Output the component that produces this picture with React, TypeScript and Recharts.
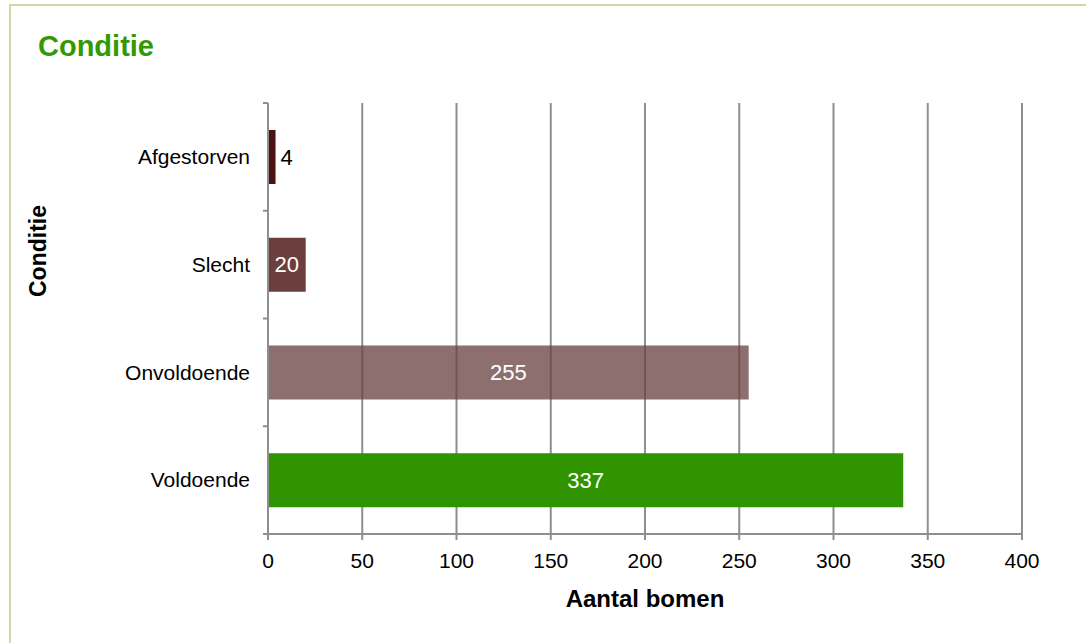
import { BarChart, Bar, XAxis, YAxis, CartesianGrid, Cell, LabelList } from "recharts"

// Conditie van bomen: aantal per conditieklasse
const categories = ["Afgestorven", "Slecht", "Onvoldoende", "Voldoende"]
const counts = [4, 20, 255, 337]
const xTicks = [0, 50, 100, 150, 200, 250, 300, 350, 400]

const barColors = ["#4b1213", "#6a3f3e", "#6a4242", "#2f9400"]
const barOpacity = [1, 1, 0.76, 1]

const data = categories.map((name, i) => ({ name, value: counts[i] }))

const FONT = 'Arial, "Liberation Sans", sans-serif'
const AXIS = "#8e8e8e"
const PLOT_TOP = 103
const PLOT_BOTTOM = 534
const AXIS_X = 268
const BAND = (PLOT_BOTTOM - PLOT_TOP) / categories.length

function CategoryTick(props: any) {
  const { y, payload, index } = props
  return (
    <g>
      <text x={AXIS_X - 18} y={y} dy="0.35em" textAnchor="end" fontSize={21} fill="#000" fontFamily={FONT}>
        {payload.value}
      </text>
      <line x1={AXIS_X - 5} x2={AXIS_X} y1={y - BAND / 2} y2={y - BAND / 2} stroke={AXIS} strokeWidth={2} />
      {index === categories.length - 1 && (
        <line x1={AXIS_X - 5} x2={AXIS_X} y1={y + BAND / 2} y2={y + BAND / 2} stroke={AXIS} strokeWidth={2} />
      )}
    </g>
  )
}

function ValueLabel(props: any) {
  const { x, y, width, height, value } = props
  const small = width < 20
  return (
    <text
      x={small ? x + width + 5 : x + width / 2}
      y={y + height / 2}
      dy="0.35em"
      textAnchor={small ? "start" : "middle"}
      fontSize={22}
      fill={small ? "#000" : "#fff"}
      fontFamily={FONT}
    >
      {value}
    </text>
  )
}

export default function App() {
  return (
    <div style={{ position: "absolute", left: 0, top: 0, width: 1086, height: 643, overflow: "hidden", background: "#fff", fontFamily: FONT }}>
      <div
        style={{
          position: "absolute",
          left: 9,
          top: 4,
          width: 1100,
          height: 700,
          border: "2px solid #cbdba3",
        }}
      />
      <div style={{ position: "absolute", left: 38, top: 28, fontSize: 29, fontWeight: "bold", color: "#339900", lineHeight: "36px" }}>
        Conditie
      </div>
      <div style={{ position: "absolute", left: 0, top: 0 }}>
        <BarChart
          width={1086}
          height={643}
          data={data}
          layout="vertical"
          margin={{ top: PLOT_TOP, right: 64, bottom: 49, left: 0 }}
        >
          <CartesianGrid horizontal={false} vertical stroke={AXIS} strokeWidth={2} />
          <XAxis
            type="number"
            domain={[0, 400]}
            ticks={xTicks}
            height={60}
            tickSize={6}
            tickMargin={13}
            tick={{ fill: "#000", fontSize: 21, fontFamily: FONT }}
            tickLine={{ stroke: AXIS, strokeWidth: 2 }}
            axisLine={{ stroke: AXIS, strokeWidth: 2 }}
            label={{
              content: () => (
                <text x={645} y={607} textAnchor="middle" fontSize={24} fontWeight="bold" fill="#000" fontFamily={FONT}>
                  Aantal bomen
                </text>
              ),
            }}
          />
          <YAxis
            type="category"
            dataKey="name"
            width={AXIS_X}
            tickLine={false}
            tick={<CategoryTick />}
            axisLine={{ stroke: AXIS, strokeWidth: 2 }}
            label={{
              content: () => (
                <text
                  x={0}
                  y={0}
                  transform="translate(46 251) rotate(-90)"
                  textAnchor="middle"
                  fontSize={23}
                  fontWeight="bold"
                  fill="#000"
                  fontFamily={FONT}
                >
                  Conditie
                </text>
              ),
            }}
          />
          <Bar dataKey="value" barSize={54} isAnimationActive={false}>
            {data.map((d, i) => (
              <Cell key={d.name} fill={barColors[i]} fillOpacity={barOpacity[i]} />
            ))}
            <LabelList dataKey="value" content={<ValueLabel />} />
          </Bar>
        </BarChart>
      </div>
    </div>
  )
}
